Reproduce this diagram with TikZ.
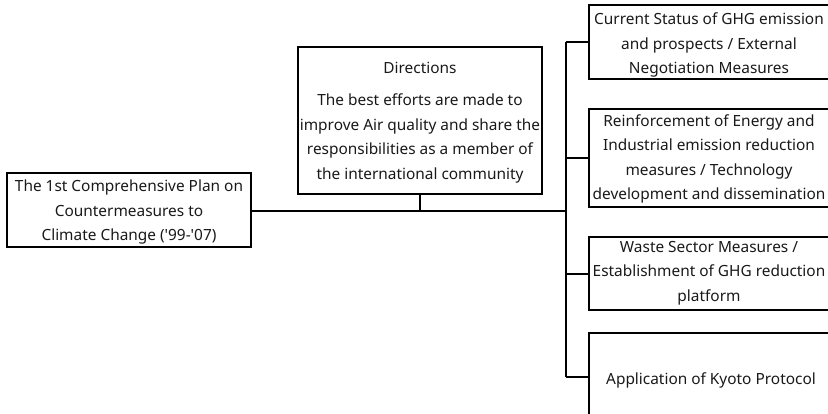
\documentclass[tikz,border=0pt]{standalone}
\usepackage{fontspec}
\setmainfont{Noto Sans}
\begin{document}
\begin{tikzpicture}[x=1pt,y=-1pt,
  box/.style={draw, line width=2pt, inner sep=0pt},
  txt/.style={align=center, inner sep=0pt, text=black!90, font=\fontsize{15.4}{24.5}\selectfont},
  conn/.style={line width=2pt}]
\useasboundingbox (0,0) rectangle (828,413);
\clip (0,0) rectangle (828,413);
% left box
\node[box, minimum width=244pt, minimum height=74pt] (L) at (129,210) {};
\node[txt] (Lt) at (129,212) {The 1st Comprehensive Plan on\\Countermeasures to\\Climate Change (\textquotesingle 99-\textquotesingle 07)};
% directions box
\node[box, minimum width=244pt, minimum height=147pt] (D) at (420,120.5) {};
\node[txt] (Dh) at (420,68) {Directions};
\node[txt] (Dt) at (420,138.5) {The best efforts are made to\\improve Air quality and share the\\responsibilities as a member of\\the international community};
% right boxes
\node[box, minimum width=241pt, minimum height=74pt] (R1) at (709.5,42) {};
\node[txt] (R1t) at (709,45) {Current Status of GHG emission\\and prospects / External\\Negotiation Measures};
\node[box, minimum width=241pt, minimum height=98pt] (R2) at (709.5,158) {};
\node[txt] (R2t) at (709,159) {Reinforcement of Energy and\\Industrial emission reduction\\measures / Technology\\development and dissemination};
\node[box, minimum width=241pt, minimum height=73pt] (R3) at (709.5,273.5) {};
\node[txt] (R3t) at (709,273) {Waste Sector Measures /\\Establishment of GHG reduction\\platform};
\node[box, minimum width=241pt, minimum height=88pt] (R4) at (709.5,377) {};
\node[txt] (R4t) at (711,380) {Application of Kyoto Protocol};
% connectors
\coordinate (bus) at (566,211);
\coordinate (main) at (420,211);
\draw[conn] (L.east |- bus) -- (bus);
\draw[conn] (D.south) -- (main);
\draw[conn] (bus |- R1.west) -- (bus |- R4.west);
\draw[conn] (bus |- R1.west) -- (R1.west);
\draw[conn] (bus |- R2.west) -- (R2.west);
\draw[conn] (bus |- R3.west) -- (R3.west);
\draw[conn] (bus |- R4.west) -- (R4.west);
\end{tikzpicture}
\end{document}
